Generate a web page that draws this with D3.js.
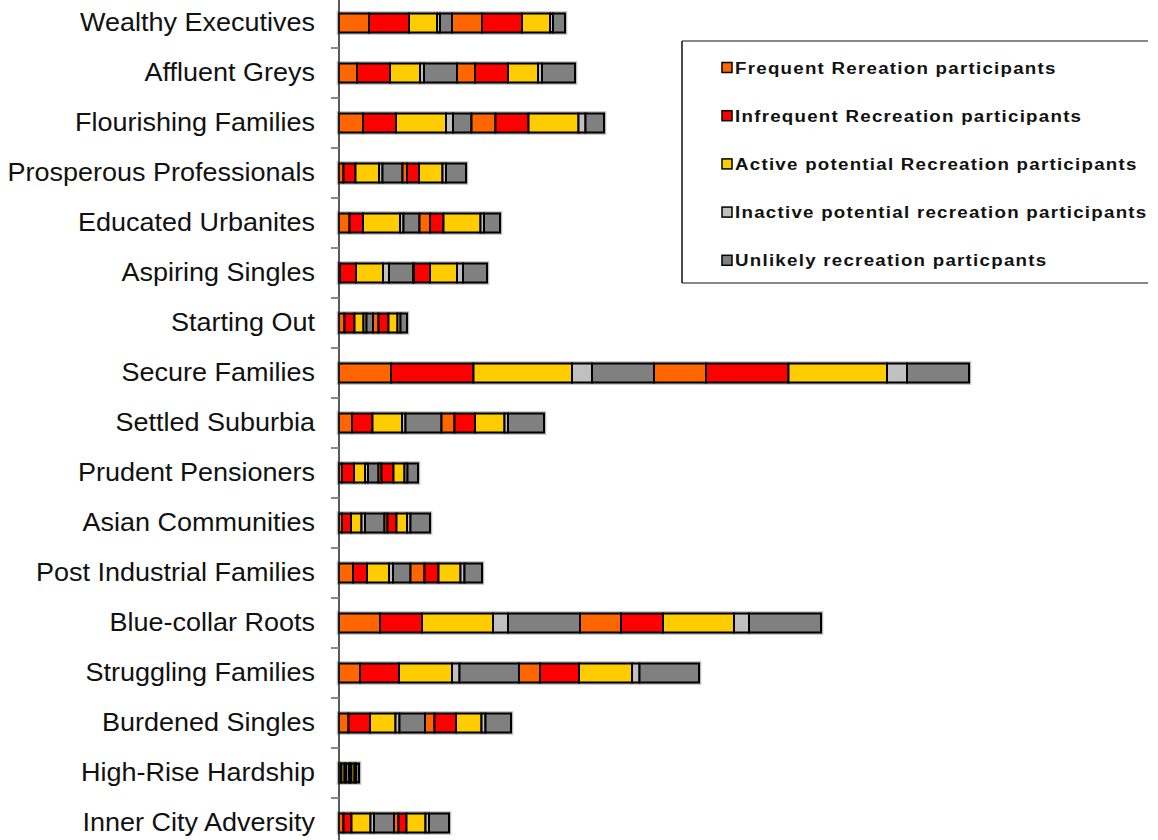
<!DOCTYPE html>
<html>
<head>
<meta charset="utf-8">
<script src="https://cdn.jsdelivr.net/npm/d3@7"></script>
<style>
  html, body { margin: 0; padding: 0; background: #fff; }
  svg { display: block; }
</style>
</head>
<body>
<svg id="chart" width="1158" height="840"></svg>
<script>
const categories = [
  "Wealthy Executives", "Affluent Greys", "Flourishing Families", "Prosperous Professionals",
  "Educated Urbanites", "Aspiring Singles", "Starting Out", "Secure Families",
  "Settled Suburbia", "Prudent Pensioners", "Asian Communities", "Post Industrial Families",
  "Blue-collar Roots", "Struggling Families", "Burdened Singles", "High-Rise Hardship",
  "Inner City Adversity"
];
const seriesNames = [
  "Frequent Rereation participants",
  "Infrequent Recreation participants",
  "Active potential Recreation participants",
  "Inactive potential recreation participants",
  "Unlikely recreation particpants"
];
const seriesColors = ["#FF6600", "#FF0000", "#FFCC00", "#C0C0C0", "#808080"];

// values per category (the chart shows the same five-part breakdown twice per bar)
const frequent   = [30, 18, 24, 4.5, 10.5, 1, 5.5, 52, 13, 3, 3, 14, 41, 21, 9.5, 1, 4.5];
const infrequent = [40, 33, 33, 12, 13.5, 16, 10, 82.5, 20.5, 12, 9, 14, 42, 39, 21.5, 1.5, 8];
const activePot  = [28, 30, 50, 23.5, 37, 27, 9, 98.5, 29.5, 11, 10.5, 22, 71, 53, 25.5, 3, 19];
const inactivePot= [3, 4, 7, 3.5, 3.5, 6, 3, 20, 3.5, 3, 3.5, 4, 15, 7.5, 4, 1.5, 3.5];
const unlikely   = [12, 33, 18.5, 20, 16, 24, 6.5, 62, 36, 10.5, 19.5, 17.5, 72, 59.5, 25.5, 3, 20];

const xMax = 630;

const svg = d3.select("#chart");
const x0 = 339;
const x = d3.scaleLinear().domain([0, xMax]).range([x0, x0 + 630]);
const y = d3.scaleBand().domain(categories).range([-2, 848]).paddingInner(0).paddingOuter(0);

const sets = [frequent, infrequent, activePot, inactivePot, unlikely];
const keys = [];
for (let r = 0; r < 2; r++) for (let s = 0; s < 5; s++) keys.push(r + "_" + s);
const table = categories.map((c, i) => {
  const row = { cat: c };
  keys.forEach(k => { const s = +k.split("_")[1]; row[k] = sets[s][i]; });
  return row;
});
const stacked = d3.stack().keys(keys)(table);

const barH = 19;

// soft halo behind each bar
svg.append("g").selectAll("rect").data(table).join("rect")
  .attr("x", x(0))
  .attr("y", d => y(d.cat) + y.bandwidth() / 2 - barH / 2)
  .attr("width", d => x(d3.sum(keys, k => d[k])) - x(0))
  .attr("height", barH)
  .attr("fill", "none")
  .attr("stroke", "#bbb")
  .attr("stroke-width", 4.5);

const layers = svg.append("g").selectAll("g").data(stacked).join("g")
  .attr("fill", d => seriesColors[+d.key.split("_")[1]]);
layers.selectAll("rect").data(d => d).join("rect")
  .attr("x", d => x(d[0]))
  .attr("y", d => y(d.data.cat) + y.bandwidth() / 2 - barH / 2)
  .attr("width", d => x(d[1]) - x(d[0]))
  .attr("height", barH)
  .attr("stroke", "#000")
  .attr("stroke-width", 2);

// category axis
const sx = 1.08;
const axis = svg.append("g").attr("transform", `translate(${x0},0)`)
  .call(d3.axisLeft(y).tickSize(0).tickPadding(24));
axis.select(".domain").remove();
axis.selectAll("text")
  .attr("x", -24 / sx)
  .attr("transform", `scale(${sx},1)`)
  .attr("font-family", "Liberation Sans, Arial, sans-serif")
  .attr("font-size", 25)
  .attr("fill", "#111");

svg.append("line")
  .attr("x1", x0).attr("x2", x0).attr("y1", 0).attr("y2", 840)
  .attr("stroke", "#222").attr("stroke-width", 1.5);

// boundary ticks
const bounds = categories.map(c => y(c) + y.bandwidth());
svg.append("g").selectAll("line").data(bounds).join("line")
  .attr("x1", x0 - 8).attr("x2", x0)
  .attr("y1", d => d).attr("y2", d => d)
  .attr("stroke", "#888").attr("stroke-width", 2);

// legend
const lg = svg.append("g");
lg.append("line").attr("x1", 682).attr("x2", 1148).attr("y1", 41).attr("y2", 41)
  .attr("stroke", "#888").attr("stroke-width", 2);
lg.append("line").attr("x1", 682).attr("x2", 1148).attr("y1", 283).attr("y2", 283)
  .attr("stroke", "#888").attr("stroke-width", 2);
lg.append("line").attr("x1", 682).attr("x2", 682).attr("y1", 41).attr("y2", 283)
  .attr("stroke", "#111").attr("stroke-width", 1.5);

const lsx = 1.1;
const items = lg.selectAll("g.item").data(seriesNames).join("g")
  .attr("class", "item")
  .attr("transform", (d, i) => `translate(722, ${67.5 + i * 48.2})`);
items.append("rect")
  .attr("x", 0).attr("y", -5).attr("width", 10).attr("height", 10)
  .attr("fill", (d, i) => seriesColors[i])
  .attr("stroke", "#000").attr("stroke-width", 1.5);
items.append("text")
  .attr("x", 13 / lsx).attr("y", 0).attr("dy", "0.36em")
  .attr("transform", `scale(${lsx},1)`)
  .attr("font-family", "Liberation Sans, Arial, sans-serif")
  .attr("font-size", 17)
  .attr("font-weight", "bold")
  .attr("letter-spacing", "1.15px")
  .attr("fill", "#111")
  .text(d => d);
</script>
</body>
</html>
